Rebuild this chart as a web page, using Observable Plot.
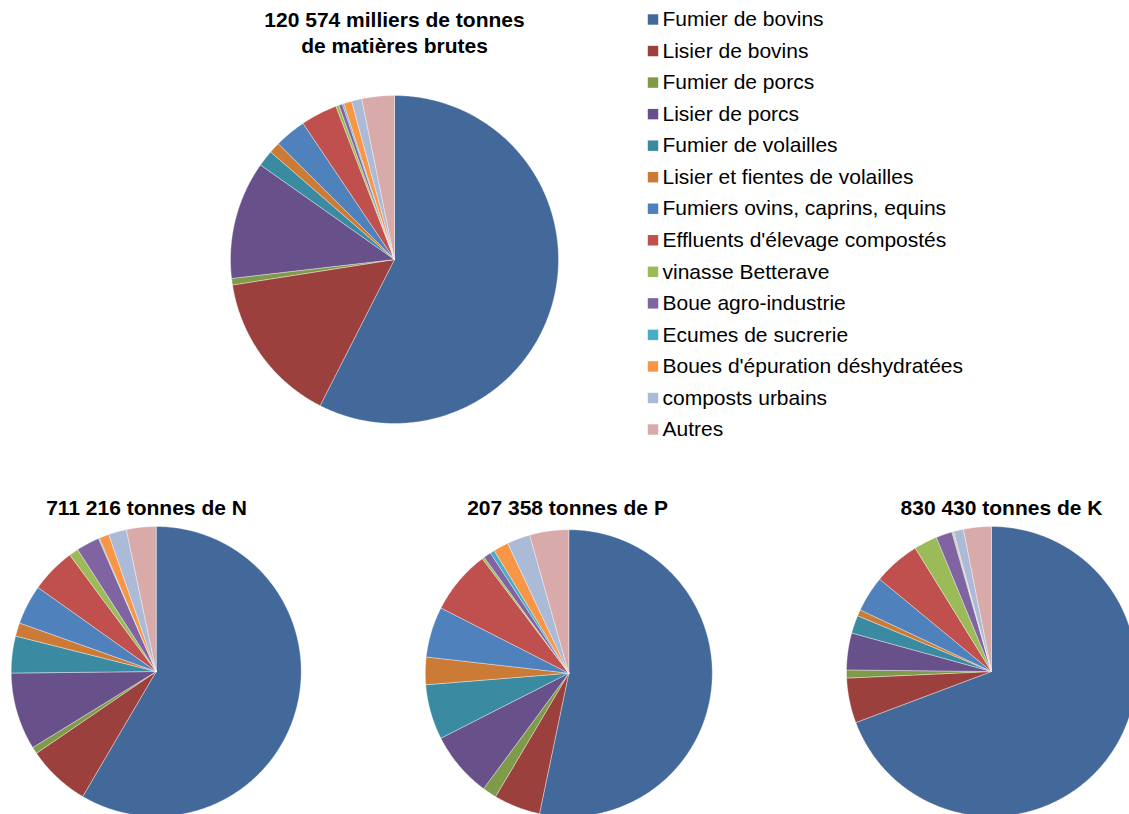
<!DOCTYPE html>
<html><head><meta charset="utf-8">
<script src="https://cdn.jsdelivr.net/npm/d3@7"></script>
<script src="https://cdn.jsdelivr.net/npm/@observablehq/plot@0.6"></script>
<style>
html,body{margin:0;padding:0;background:#fff;overflow:hidden}
#chart{width:1129px;height:814px;overflow:hidden;position:relative}
</style></head><body><div id="chart"></div>
<script>
const categories = ["Fumier de bovins","Lisier de bovins","Fumier de porcs","Lisier de porcs","Fumier de volailles","Lisier et fientes de volailles","Fumiers ovins, caprins, equins","Effluents d'élevage compostés","vinasse Betterave","Boue agro-industrie","Ecumes de sucrerie","Boues d'épuration déshydratées","composts urbains","Autres"];
const colors = ["#43699B","#9B403D","#7F9A48","#68508A","#3A8BA2","#CC7B37","#4F81BD","#C0504D","#9BBB59","#8064A2","#4BACC6","#F79646","#AABAD7","#D9AAAA"];
// shares (%)
const matieresBrutes = [57.4, 15.0, 0.64, 11.6, 1.6, 1.1, 3.1, 3.6, 0.3, 0.35, 0.15, 0.8, 1.0, 3.2];
const azote = [58.4, 7.0, 0.75, 8.6, 4.1, 1.5, 4.4, 5.0, 1.05, 2.6, 0.1, 1.1, 2.0, 3.3];
const phosphore = [53.3, 5.25, 1.6, 7.4, 6.2, 3.1, 5.7, 7.2, 0.25, 0.85, 0.5, 1.7, 2.6, 4.4];
const potassium = [69.2, 5.0, 0.9, 4.1, 2.0, 0.7, 4.0, 5.2, 2.6, 1.8, 0.1, 0.1, 1.1, 3.1];
const titles = [["120 574 milliers de tonnes","de matières brutes"],["711 216 tonnes de N"],["207 358 tonnes de P"],["830 430 tonnes de K"]];

const W = 1129, H = 814;
const pies = [
  {key:"brutes", values: matieresBrutes, cx:394, cy:259, r:164, tx:394, ty:[20,46]},
  {key:"N", values: azote, cx:155.7, cy:671, r:145, tx:146, ty:[508]},
  {key:"P", values: phosphore, cx:568.3, cy:672.7, r:143.5, tx:567, ty:[508]},
  {key:"K", values: potassium, cx:991, cy:671, r:145, tx:1001, ty:[508]}
];

const pts = [];
pies.forEach(p => {
  const arcs = d3.pie().sort(null).value(d => d)(p.values);
  arcs.forEach((a, i) => {
    const id = p.key + "-" + i, cat = categories[i];
    pts.push({id, cat, x: p.cx, y: p.cy});
    const n = Math.max(2, Math.ceil((a.endAngle - a.startAngle) / (Math.PI / 360)));
    for (let k = 0; k <= n; k++) {
      const t = a.startAngle + (a.endAngle - a.startAngle) * k / n;
      pts.push({id, cat, x: p.cx + p.r * Math.sin(t), y: p.cy - p.r * Math.cos(t)});
    }
    pts.push({id, cat, x: p.cx, y: p.cy});
  });
});

const titleRows = [];
pies.forEach((p, j) => titles[j].forEach((t, k) => titleRows.push({text: t, x: p.tx, y: p.ty[k]})));

const legendX = 652.5, legendTextX = 662, legendY0 = 19, legendStep = 31.54;

const chart = Plot.plot({
  width: W, height: H,
  margin: 0,
  x: {domain: [0, W], range: [0, W], axis: null},
  y: {domain: [0, H], range: [0, H], axis: null},
  color: {domain: categories, range: colors},
  style: {fontFamily: "'Liberation Sans', Arial, sans-serif", background: "#fff", overflow: "hidden"},
  marks: [
    Plot.line(pts, {x: "x", y: "y", z: "id", fill: "cat", stroke: "#ffffff", strokeWidth: 0.6, strokeOpacity: 0.6, curve: "linear"}),
    Plot.text(titleRows, {x: "x", y: "y", text: "text", fontSize: 21, fontWeight: "bold", fill: "#000"}),
    Plot.dot(categories, {x: () => legendX, y: (d, i) => legendY0 + i * legendStep, symbol: "square", r: 5.9, fill: d => d, stroke: null}),
    Plot.text(categories, {x: () => legendTextX, y: (d, i) => legendY0 + i * legendStep, text: d => d, textAnchor: "start", fontSize: 21, fill: "#000"})
  ]
});
document.getElementById("chart").appendChild(chart);
</script></body></html>
